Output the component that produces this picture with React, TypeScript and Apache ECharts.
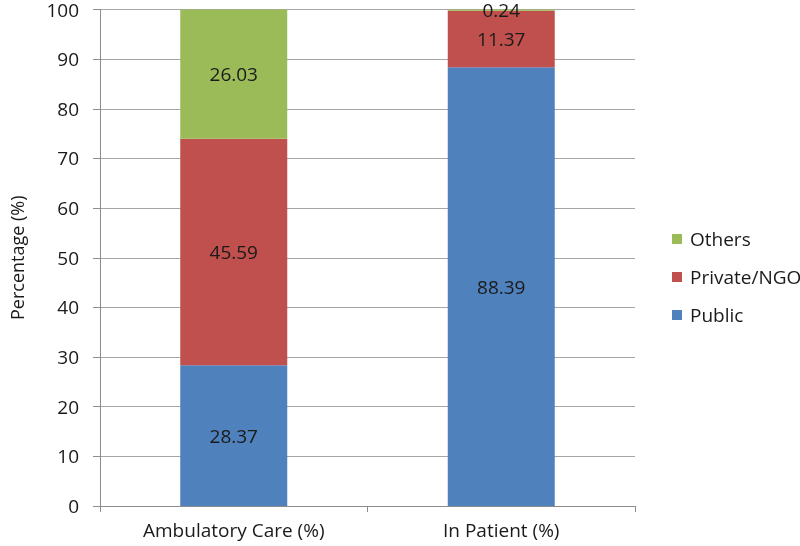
import React, { useEffect, useRef } from "react";
import * as echarts from "echarts";

const categories = ["Ambulatory Care (%)", "In Patient (%)"];
const publicValues = [28.37, 88.39];
const privateValues = [45.59, 11.37];
const othersValues = [26.03, 0.24];
const legendOrder = ["Others", "Private/NGO", "Public"];

const FONT = "'Open Sans', 'Noto Sans', sans-serif";
const FS = 19;

export default function App() {
  const ref = useRef<HTMLDivElement>(null);
  useEffect(() => {
    if (!ref.current) return;
    const chart = echarts.init(ref.current, undefined, { renderer: "svg" });
    const label = {
      show: true,
      position: "inside",
      color: "#1a1a1a",
      fontSize: FS,
      lineHeight: 14,
      fontFamily: FONT,
      formatter: (p: any) => p.value.toFixed(2),
    };
    chart.setOption({
      animation: false,
      textStyle: { fontFamily: FONT },
      grid: { left: 83, right: 165, top: 8, bottom: 40, containLabel: false },
      legend: {
        data: legendOrder,
        orient: "vertical",
        left: 667,
        top: 224,
        itemWidth: 10,
        itemHeight: 10,
        itemGap: 18,
        icon: "rect",
        textStyle: {
          fontSize: FS,
          lineHeight: 20,
          color: "#1a1a1a",
          fontFamily: FONT,
          padding: [0, 0, 0, 3],
        },
      },
      xAxis: {
        type: "category",
        data: categories,
        axisLine: { lineStyle: { color: "#8c8c8c", width: 1 } },
        axisTick: { show: true, length: 6, lineStyle: { color: "#8c8c8c" } },
        axisLabel: { fontSize: FS, color: "#1a1a1a", margin: 14, fontFamily: FONT },
      },
      yAxis: {
        type: "value",
        min: 0,
        max: 100,
        interval: 10,
        name: "Percentage (%)",
        nameLocation: "middle",
        nameGap: 74,
        nameTextStyle: { fontSize: 18, color: "#1a1a1a", fontFamily: FONT },
        axisLine: { show: true, lineStyle: { color: "#8c8c8c", width: 1 } },
        axisTick: { show: true, length: 7, lineStyle: { color: "#8c8c8c" } },
        axisLabel: {
          fontSize: FS,
          lineHeight: 14,
          color: "#1a1a1a",
          margin: 21,
          fontFamily: FONT,
        },
        splitLine: { lineStyle: { color: "#a6a6a6", width: 1 } },
      },
      series: [
        {
          name: "Public",
          type: "bar",
          stack: "total",
          barWidth: "40%",
          data: publicValues,
          itemStyle: { color: "#4F81BD" },
          label,
        },
        {
          name: "Private/NGO",
          type: "bar",
          stack: "total",
          data: privateValues,
          itemStyle: { color: "#C0504D" },
          label,
        },
        {
          name: "Others",
          type: "bar",
          stack: "total",
          data: othersValues,
          itemStyle: { color: "#9BBB59" },
          label,
        },
      ],
    });
    return () => chart.dispose();
  }, []);
  return (
    <div
      ref={ref}
      style={{ position: "fixed", left: 0, top: 0, width: 800, height: 546 }}
    />
  );
}
